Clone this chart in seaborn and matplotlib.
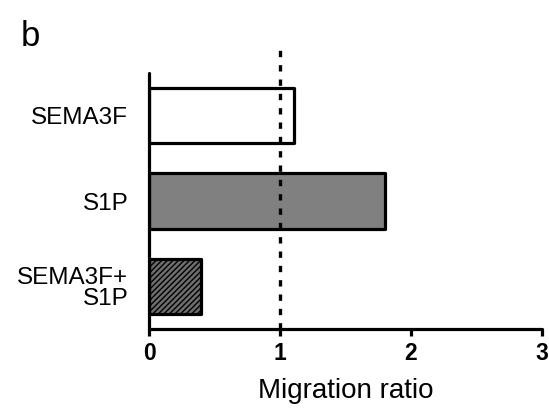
import matplotlib
matplotlib.use("Agg")
import matplotlib.pyplot as plt
import seaborn as sns
import pandas as pd

categories = ["SEMA3F", "S1P", "SEMA3F+\nS1P"]
values = [1.11, 1.80, 0.40]
xticks = [0, 1, 2, 3]
xlabel = "Migration ratio"
panel = "b"

sns.set_theme(style="ticks")
plt.rcParams["font.family"] = ["Liberation Sans", "DejaVu Sans"]
plt.rcParams["hatch.linewidth"] = 1.0
plt.rcParams["text.color"] = "black"
plt.rcParams["axes.labelcolor"] = "black"
plt.rcParams["xtick.color"] = "black"
plt.rcParams["ytick.color"] = "black"

df = pd.DataFrame({"cat": categories, "val": values})

fig = plt.figure(figsize=(5.49, 4.12), dpi=100)
ax = fig.add_axes([149/549, 1-329/412, (542-149)/549, (329-73)/412])

sns.barplot(data=df, y="cat", x="val", hue="cat", orient="h",
            palette=["white", "#808080", "#5a5a5a"], legend=False,
            width=0.65, edgecolor="black", linewidth=2.3, saturation=1,
            ax=ax)
for p in ax.patches:
    p.set_joinstyle("round")
ax.patches[2].set_hatch("//////")
ax.patches[2].set_facecolor("#6e6e6e")

ax.plot([1, 1], [2.5, -0.85], color="black", lw=2.4,
        linestyle=(0, (1.9, 2.4)), clip_on=False, zorder=5)

ax.set_xlim(0, 3)
ax.set_ylim(2.5, -0.5)
ax.set_xticks(xticks)
ax.set_xticklabels([str(t) for t in xticks], fontsize=16.5, fontweight="bold",
                   color="black")
ax.tick_params(axis="x", length=5, width=2.3, pad=4, color="black")
ax.tick_params(axis="y", length=0, pad=15)
for lbl in ax.get_yticklabels():
    lbl.set_fontsize(17.5)
    lbl.set_color("black")
    lbl.set_horizontalalignment("right")
    lbl.set_multialignment("right")
    lbl.set_linespacing(0.95)
ax.set_ylabel("")
ax.set_xlabel(xlabel, fontsize=20, labelpad=10, color="black")
for s in ["top", "right"]:
    ax.spines[s].set_visible(False)
for s in ["left", "bottom"]:
    ax.spines[s].set_linewidth(2.3)
    ax.spines[s].set_color("black")
    ax.spines[s].set_capstyle("round")

fig.text(21/549, 1-46/412, panel, fontsize=25, ha="left", va="baseline",
         color="black")

fig.savefig("out.png", dpi=100)
